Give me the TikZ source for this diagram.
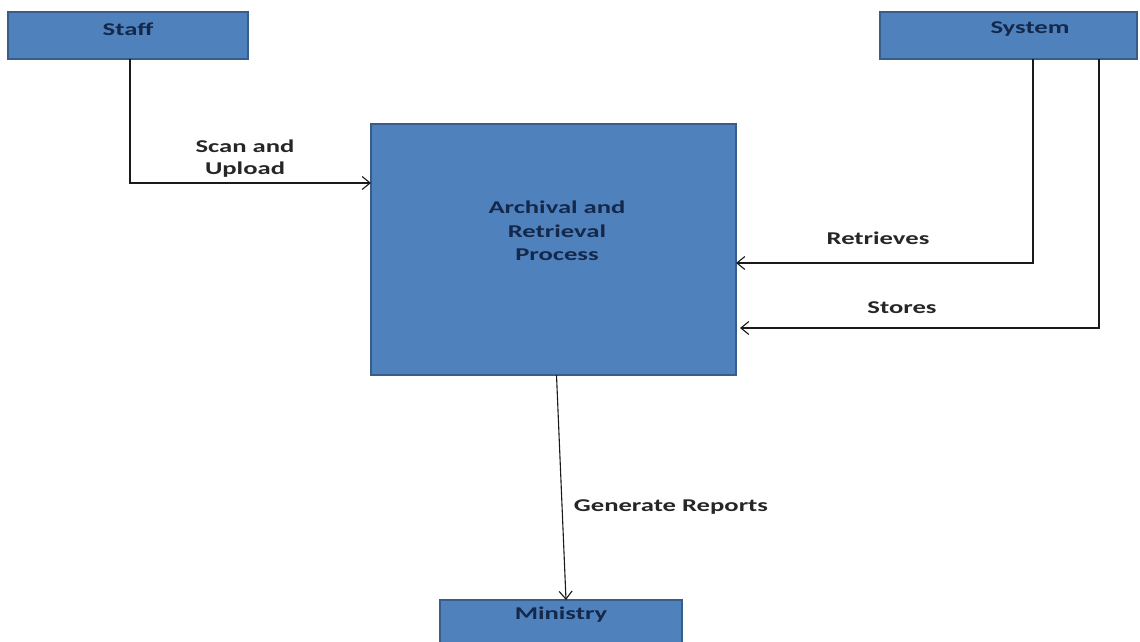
\documentclass[tikz,border=0pt]{standalone}
\usepackage{fontspec}
\setmainfont{Carlito}[FakeStretch=1.48]
\usetikzlibrary{arrows.meta,positioning,calc}
\definecolor{boxfill}{HTML}{4F81BD}
\definecolor{boxdraw}{HTML}{385D8A}
\definecolor{boxtext}{HTML}{14284A}
\definecolor{linecol}{HTML}{1A1A1A}
\tikzset{
  entity/.style={draw=boxdraw, line width=1.4pt, fill=boxfill, anchor=north west, inner sep=0pt, outer sep=0pt},
  boxlabel/.style={text=boxtext, font=\fontsize{18}{23.5}\selectfont\bfseries, align=center, inner sep=0pt},
  flowlabel/.style={text=black!85, font=\fontsize{18}{22}\selectfont\bfseries, align=center, inner sep=0pt},
  flow/.style={draw=linecol, line width=1.1pt, -{Straight Barb[length=8pt,width=13pt,line width=1.1pt]}}
}
\begin{document}
\begin{tikzpicture}[x=1pt,y=-1pt]
\fill[white] (0,0) rectangle (1140,642);
\useasboundingbox (0,0) rectangle (1140,642);
% boxes
\node[entity, minimum width=240pt, minimum height=47pt] (staff) at (8,12) {};
\node[entity, minimum width=257pt, minimum height=47pt] (system) at (880,12) {};
\node[entity, minimum width=365pt, minimum height=251pt] (proc) at (371,124) {};
\node[entity, minimum width=242pt, minimum height=60pt] (ministry) at (440,600) {};
% box texts
\node[boxlabel] (staffT) at (128,29) {Staff};
\node[boxlabel] (systemT) at (1030,29) {System};
\node[boxlabel] (procT) at (557,231) {Archival and\\Retrieval\\Process};
\node[boxlabel] (ministryT) at (561,615) {Ministry};
% connectors
\draw[flow] ([xshift=2pt]staff.south) |- ([yshift=66.5pt]proc.west);
\draw[flow] ([xshift=24.5pt]system.south) |- ([yshift=-13.5pt]proc.east);
\draw[flow, shorten >=4pt] ([xshift=90.5pt]system.south) |- ([yshift=-78.5pt]proc.east);
\draw[flow] ([xshift=3pt]proc.south) -- ([xshift=5pt]ministry.north);
% connector labels
\node[flowlabel] (scanL) at (245,159) {Scan and\\Upload};
\node[flowlabel] (retrL) at (878,238) {Retrieves};
\node[flowlabel] (storeL) at (902,308) {Stores};
\node[flowlabel] (genL) at (671,507) {Generate Reports};
\end{tikzpicture}
\end{document}
